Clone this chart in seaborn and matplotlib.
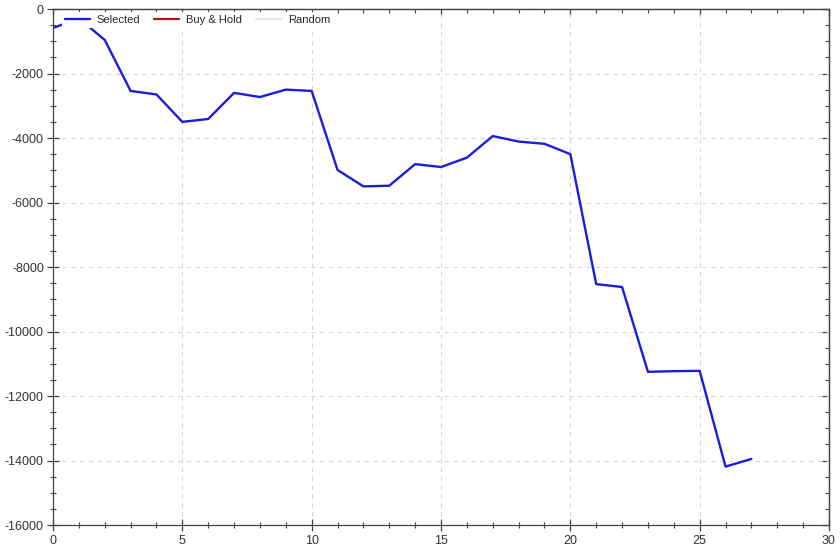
import matplotlib
matplotlib.use("Agg")
import matplotlib.pyplot as plt
from matplotlib.ticker import MultipleLocator
import seaborn as sns
import pandas as pd

# Equity curve values
trade_no = list(range(28))
selected = [-590, -290, -960, -2540, -2650, -3500, -3410, -2600, -2730, -2500,
            -2540, -4990, -5500, -5480, -4810, -4900, -4610, -3940, -4110, -4180,
            -4500, -8530, -8620, -11250, -11230, -11220, -14190, -13950]
buy_hold = []
random_curve = []

sns.set_theme(style="white")
plt.rcParams["font.family"] = ["Liberation Sans", "DejaVu Sans"]
plt.rcParams["axes.unicode_minus"] = False

fig = plt.figure(figsize=(8.4, 5.49), dpi=100)
ax = fig.add_axes([0.0631, 0.0437, 0.9238, 0.9399])

df = pd.DataFrame({"x": trade_no, "y": selected})
sns.lineplot(data=df, x="x", y="y", ax=ax, color="#1c1cdc", linewidth=1.7, label="Selected")
ax.plot(buy_hold, buy_hold, color="#b01818", linewidth=1.6, label="Buy & Hold")
ax.plot(random_curve, random_curve, color="#e2e2e2", linewidth=1.6, label="Random")

ax.set_xlim(0, 30)
ax.set_ylim(-16000, 0)

spine_col = "#444444"
ax.grid(True, which="major", color="#d6d6d6", linestyle=(0, (4, 4)), linewidth=0.8)
for s in ax.spines.values():
    s.set_color(spine_col)
    s.set_linewidth(0.9)

# left/bottom ticks cross the spine, top/right ticks point inward
top = ax.secondary_xaxis("top")
right = ax.secondary_yaxis("right")
for a in (ax.xaxis, top.xaxis):
    a.set_major_locator(MultipleLocator(5))
    a.set_minor_locator(MultipleLocator(1))
for a in (ax.yaxis, right.yaxis):
    a.set_major_locator(MultipleLocator(2000))
    a.set_minor_locator(MultipleLocator(500))

ax.tick_params(which="both", bottom=True, left=True, colors=spine_col,
               labelcolor="#333333", labelsize=9)
ax.tick_params(which="major", direction="inout", length=9, width=0.9)
ax.tick_params(which="minor", direction="inout", length=5, width=0.8)
ax.tick_params(axis="x", pad=3)
ax.tick_params(axis="y", pad=2)
for sec in (top, right):
    sec.tick_params(which="major", direction="in", length=5, width=0.9, colors=spine_col,
                    labeltop=False, labelright=False)
    sec.tick_params(which="minor", direction="in", length=3, width=0.8, colors=spine_col)
    for s in sec.spines.values():
        s.set_color(spine_col)
        s.set_linewidth(0.9)

ax.set_xlabel("")
ax.set_ylabel("")
# opaque legend box hides the curve behind it, as in the reference
leg = ax.legend(loc="upper left", bbox_to_anchor=(0.0116, 0.994), ncol=3, frameon=True,
                fontsize=8, handlelength=2.25, columnspacing=1.25, handletextpad=0.62,
                borderaxespad=0, borderpad=0.25, fancybox=False, framealpha=1)
leg.get_frame().set_facecolor("white")
leg.get_frame().set_edgecolor("none")

fig.savefig("out.png", dpi=100)
